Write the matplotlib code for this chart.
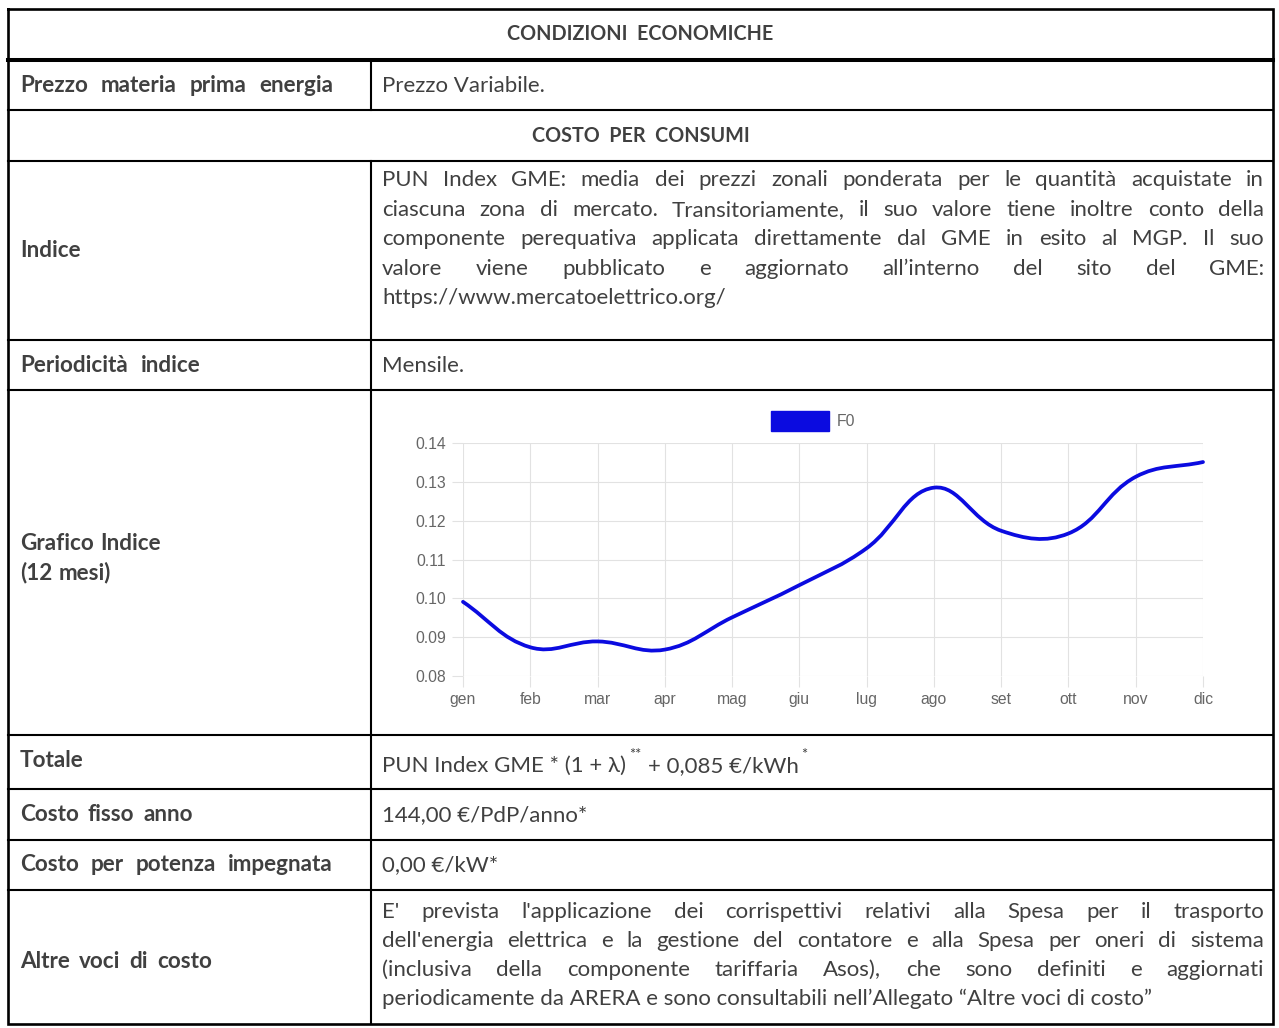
import numpy as np
import matplotlib
matplotlib.use('Agg')
import matplotlib.pyplot as plt
from matplotlib.path import Path
from matplotlib.patches import PathPatch, Patch

W, H = 1279, 1028

# dati del grafico
mesi = ['gen', 'feb', 'mar', 'apr', 'mag', 'giu', 'lug', 'ago', 'set', 'ott', 'nov', 'dic']
f0 = [0.0991, 0.0874, 0.0889, 0.0868, 0.0951, 0.1034, 0.1129, 0.1285, 0.1174, 0.1167, 0.1313, 0.1351]
y_ticks = [0.08, 0.09, 0.10, 0.11, 0.12, 0.13, 0.14]
serie = 'F0'

# testi della tabella
titolo_1 = 'CONDIZIONI  ECONOMICHE'
titolo_2 = 'COSTO  PER  CONSUMI'
etichette = ['Prezzo materia prima energia', 'Indice', 'Periodicità indice',
             'Grafico Indice', '(12 mesi)', 'Totale', 'Costo fisso anno',
             'Costo per potenza impegnata', 'Altre voci di costo']
prezzo = 'Prezzo Variabile.'
indice = ['PUN Index GME: media dei prezzi zonali ponderata per le quantità acquistate in',
          'ciascuna zona di mercato. Transitoriamente, il suo valore tiene inoltre conto della',
          'componente perequativa applicata direttamente dal GME in esito al MGP. Il suo',
          'valore viene pubblicato e aggiornato all\u2019interno del sito del GME:',
          'https://www.mercatoelettrico.org/']
periodicita = 'Mensile.'
totale = ['PUN Index GME * (1 + \u03bb)', '**', '+ 0,085 \u20ac/kWh', '*']
costo_fisso = '144,00 \u20ac/PdP/anno*'
costo_potenza = '0,00 \u20ac/kW*'
altre = ["E' prevista l'applicazione dei corrispettivi relativi alla Spesa per il trasporto",
         "dell'energia elettrica e la gestione del contatore e alla Spesa per oneri di sistema",
         "(inclusiva della componente tariffaria Asos), che sono definiti e aggiornati",
         "periodicamente da ARERA e sono consultabili nell\u2019Allegato \u201cAltre voci di costo\u201d"]

# geometria tabella (pixel)
righe_y = [9, 60, 110, 161, 340, 390, 735, 789, 840, 890, 1024]
x_sx, x_div, x_dx = 8, 371, 1273
x_lab, x_txt, x_fine = 20, 382, 1264

grigio = '#404040'
blu = '#0b0be0'
norm = dict(family=['Lato', 'DejaVu Sans'], fontsize=16.0, color=grigio)
gras = dict(norm, weight='bold', fontsize=16.2)
testata = dict(gras, fontsize=14.2)

fig = plt.figure(figsize=(W / 100, H / 100), dpi=100)
ax = fig.add_axes([0, 0, 1, 1])
ax.set_xlim(0, W)
ax.set_ylim(H, 0)
ax.axis('off')
renderer = fig.canvas.get_renderer()


def larghezza(s, **kw):
    t = ax.text(0, 0, s, **kw)
    w = t.get_window_extent(renderer).width
    t.remove()
    return w


def scrivi(x, y, s, **kw):
    ax.text(x, y, s, ha='left', va='baseline', **kw)
    return x + larghezza(s, **kw)


def parole(x0, y, s, gap, **kw):
    # parole con spaziatura fissa (etichette in grassetto)
    x = x0
    for p in s.split():
        ax.text(x, y, p, ha='left', va='baseline', **kw)
        x += larghezza(p, **kw) + gap


def giustifica(x0, x1, y, s, **kw):
    ps = s.split()
    ws = [larghezza(p, **kw) for p in ps]
    gap = (x1 - x0 - sum(ws)) / (len(ps) - 1)
    gap = max(gap, 0.22 * kw['fontsize'] * 100 / 72)
    x = x0
    for p, w in zip(ps, ws):
        ax.text(x, y, p, ha='left', va='baseline', **kw)
        x += w + gap


# bordi
ax.plot([x_sx, x_dx, x_dx, x_sx, x_sx], [righe_y[0], righe_y[0], righe_y[-1], righe_y[-1], righe_y[0]],
        color='black', lw=1.9, solid_joinstyle='miter')
for i, y in enumerate(righe_y[1:-1]):
    ax.plot([x_sx, x_dx], [y, y], color='black', lw=2.9 if i == 0 else 1.5)
ax.plot([x_div, x_div], [righe_y[1], righe_y[2]], color='black', lw=1.5)
ax.plot([x_div, x_div], [righe_y[3], righe_y[-1]], color='black', lw=1.5)

# intestazioni
cx = (x_sx + x_dx) / 2
ax.text(cx, 40.5, titolo_1, ha='center', va='baseline', **testata)
ax.text(cx, 141.5, titolo_2, ha='center', va='baseline', **testata)

# etichette colonna sinistra
giustifica(x_lab, 333, 92, etichette[0], **gras)
scrivi(x_lab, 257, etichette[1], **gras)
parole(x_lab, 372, etichette[2], 13, **gras)
parole(x_lab, 550, etichette[3], 6, **gras)
parole(x_lab, 579, etichette[4], 6, **gras)
scrivi(x_lab, 767, etichette[5], **gras)
parole(x_lab, 821, etichette[6], 9, **gras)
giustifica(x_lab, 333, 871, etichette[7], **gras)
parole(x_lab, 968, etichette[8], 9, **gras)

# colonna destra
scrivi(x_txt, 92, prezzo, **norm)
for i, riga in enumerate(indice):
    y = 186.5 + i * 29.4
    if i < len(indice) - 1:
        giustifica(x_txt, x_fine, y, riga, **norm)
    else:
        scrivi(x_txt, y, riga, **norm)
scrivi(x_txt, 372, periodicita, **norm)
sup = dict(norm, fontsize=10.5)
x = scrivi(x_txt, 772, totale[0], **norm)
x = scrivi(x + 3, 759, totale[1], **sup)
x = scrivi(x + 7, 772, totale[2], **norm)
scrivi(x + 2, 759, totale[3], **sup)
scrivi(x_txt, 821, costo_fisso, **norm)
scrivi(x_txt, 871, costo_potenza, **norm)
for i, riga in enumerate(altre):
    y = 918 + i * 29
    if i < len(altre) - 1:
        giustifica(x_txt, x_fine, y, riga, **norm)
    else:
        scrivi(x_txt, y, riga, **norm)

# grafico indice
px0, px1, py0, py1 = 463, 1203, 443, 676
axc = fig.add_axes([px0 / W, 1 - py1 / H, (px1 - px0) / W, (py1 - py0) / H])
xs = np.arange(len(mesi))
axc.set_xlim(0, len(mesi) - 1)
axc.set_ylim(y_ticks[0], y_ticks[-1])
for s in axc.spines.values():
    s.set_visible(False)
axc.set_xticks(xs)
axc.set_xticklabels(mesi)
axc.set_yticks(y_ticks)
axc.set_yticklabels(['%.2f' % v for v in y_ticks])
axc.grid(True, color='#e2e2e2', lw=0.8)
axc.set_axisbelow(True)
lab_font = dict(family=['Liberation Sans', 'DejaVu Sans'], size=11.3)
axc.tick_params(axis='both', length=7.9, width=0.8, color='#e2e2e2', labelcolor='#666666')
axc.tick_params(axis='x', pad=3.5)
axc.tick_params(axis='y', pad=4.3)
for t in axc.get_xticklabels() + axc.get_yticklabels():
    t.set_fontfamily(lab_font['family'])
    t.set_fontsize(lab_font['size'])


def curva(xv, yv, sx, sy, tens=0.4):
    # spline bezier come Chart.js (tension 0.4), calcolata in pixel
    px = np.asarray(xv, float) * sx
    py = np.asarray(yv, float) * sy
    n = len(px)
    cprev, cnext = [], []
    for i in range(n):
        a, b = max(i - 1, 0), min(i + 1, n - 1)
        d01 = np.hypot(px[i] - px[a], py[i] - py[a])
        d12 = np.hypot(px[b] - px[i], py[b] - py[i])
        tot = d01 + d12
        fa = tens * (d01 / tot if tot else 0)
        fb = tens * (d12 / tot if tot else 0)
        dx, dy = px[b] - px[a], py[b] - py[a]
        cprev.append((px[i] - fa * dx, py[i] - fa * dy))
        cnext.append((px[i] + fb * dx, py[i] + fb * dy))
    verts = [(px[0], py[0])]
    codes = [Path.MOVETO]
    for i in range(n - 1):
        verts += [cnext[i], cprev[i + 1], (px[i + 1], py[i + 1])]
        codes += [Path.CURVE4] * 3
    verts = np.array(verts)
    verts[:, 0] /= sx
    verts[:, 1] /= sy
    verts[:, 0] = np.clip(verts[:, 0], xv[0], xv[-1])
    return Path(verts, codes)


sx = (px1 - px0) / (len(mesi) - 1)
sy = (py1 - py0) / (y_ticks[-1] - y_ticks[0])
axc.add_patch(PathPatch(curva(xs, f0, sx, sy), facecolor='none', edgecolor=blu,
                        lw=2.7, capstyle='round', joinstyle='round', clip_on=False))

fig.legend(handles=[Patch(facecolor=blu, edgecolor=blu, label=serie)], loc='center',
           bbox_to_anchor=(813 / W, 1 - 421 / H), frameon=False, borderpad=0,
           handlelength=3.7, handleheight=1.58, handletextpad=0.45,
           prop=dict(family=lab_font['family'], size=lab_font['size']), labelcolor='#666666')

fig.savefig('out.png', dpi=100)
